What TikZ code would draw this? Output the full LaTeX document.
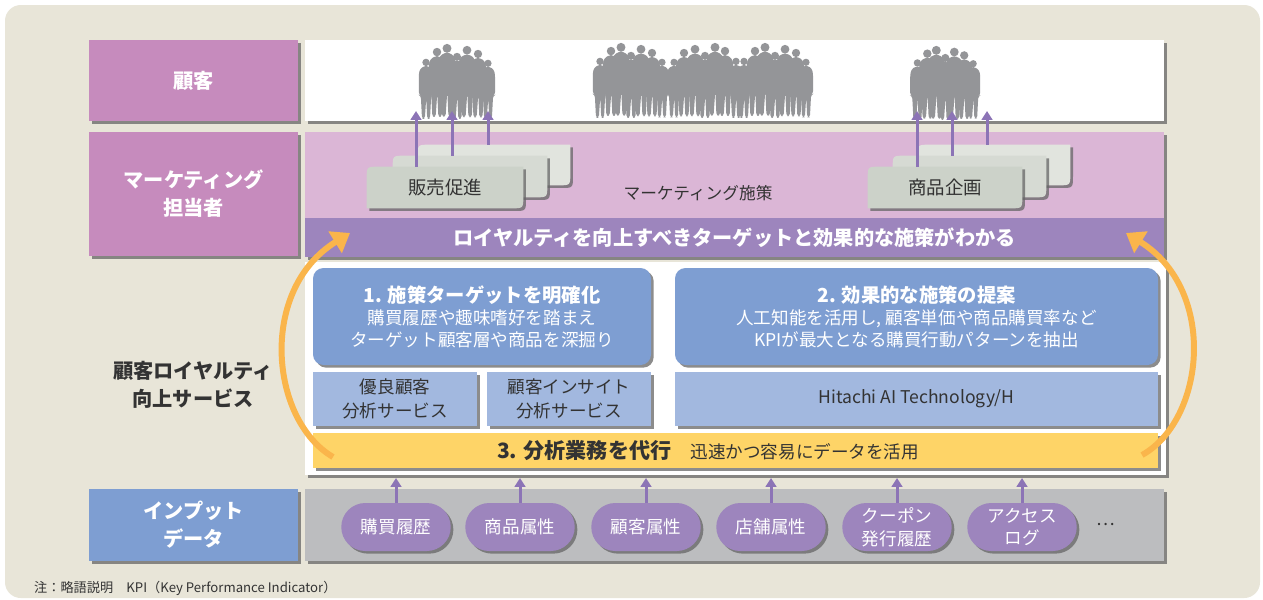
\documentclass[tikz,border=0pt]{standalone}
\usepackage{fontspec}
\setmainfont{Noto Sans CJK JP}
\usetikzlibrary{arrows.meta,fit,shadows,shapes.misc}

\definecolor{bgbeige}{HTML}{E8E5D8}
\definecolor{custpink}{HTML}{C68BBD}
\definecolor{mktpink}{HTML}{DBB6D6}
\definecolor{bandpurple}{HTML}{9D85BD}
\definecolor{arrowpurple}{HTML}{8C74B6}
\definecolor{cardA}{HTML}{CCD2C9}
\definecolor{cardB}{HTML}{D6DAD3}
\definecolor{cardC}{HTML}{E1E4DE}
\definecolor{svcblue}{HTML}{7E9ED2}
\definecolor{svclight}{HTML}{A2B8DF}
\definecolor{baryellow}{HTML}{FED467}
\definecolor{inputgray}{HTML}{BCBDBF}
\definecolor{crowdgray}{HTML}{949598}
\definecolor{flowyellow}{HTML}{FAB54B}
\definecolor{ink}{HTML}{333333}

\newcommand{\rowlabelfont}{\bfseries\fontsize{11.5}{16}\selectfont}
\newcommand{\bandfont}{\bfseries\fontsize{11.5}{14}\selectfont}
\newcommand{\boxfont}{\fontsize{10}{12.5}\selectfont}
\newcommand{\boxtitlefont}{\bfseries\fontsize{11}{13}\selectfont}
\newcommand{\notefont}{\fontsize{7.5}{9}\selectfont}

\newcommand{\cardshape}[2]{%
  \fill[#2, boxshadow] (#1.south west) -- ([yshift=-7pt]#1.north west)
    .. controls (#1.north west) .. ([xshift=7pt]#1.north west)
    -- (#1.north east) -- ([yshift=7pt]#1.south east)
    .. controls (#1.south east) .. ([xshift=-7pt]#1.south east) -- cycle;}

\tikzset{
  >={Triangle[length=5pt,width=6pt]},
  boxshadow/.style={drop shadow={shadow xshift=1.5pt,shadow yshift=-1.5pt,fill=black!60,opacity=.75}},
  panel/.style={fit={#1}, inner sep=0pt, boxshadow},
  rowlabel/.style={panel={#1}, fill=custpink},
  rowtext/.style={text=white, font=\rowlabelfont, align=center},
  svcbox/.style={panel={#1}, fill=svcblue, rounded corners=6pt},
  svctext/.style={text=white, font=\boxfont, align=center},
  toolbox/.style={panel={#1}, fill=svclight},
  tooltext/.style={text=ink, font=\fontsize{10}{13.5}\selectfont, align=center},
  cardbox/.style={fit={#1}, inner sep=0pt},
  cardtext/.style={text=ink, font=\fontsize{10.5}{12}\selectfont},
  pill/.style={rounded rectangle, fill=bandpurple, boxshadow, text=white, minimum width=2.26cm,
    minimum height=0.96cm, inner sep=1pt, font=\fontsize{10}{13}\selectfont, align=center},
  uparrow/.style={->, draw=arrowpurple, line width=1.7pt},
  flowarrow/.style={-{Triangle[length=10pt,width=14pt]}, draw=flowyellow, line width=3.4pt},
  person/.pic={
    \fill (0,5.5) circle (4.6);
    \fill[rounded corners=1.5pt] (-2.2,10) -- (2.2,10) -- (7.5,13.5) -- (9,20) -- (9,46) -- (6.5,47)
      -- (5,76) -- (1.5,76) -- (0.3,50) -- (-1.5,76) -- (-5,76) -- (-6.5,47) -- (-9,46) -- (-9,20)
      -- (-7.5,13.5) -- cycle;
  },
  crowd/.pic={
    \pic[scale=.8] at (6,15) {person};
    \pic[scale=.92] at (17,4) {person};
    \pic[scale=.97] at (27,0) {person};
    \pic[scale=.88] at (37,9) {person};
    \pic[scale=.95] at (47,2) {person};
    \pic[scale=.9] at (58,6) {person};
    \pic[scale=.78] at (68,16) {person};
  }
}

\begin{document}
\begin{tikzpicture}[x=0.02cm,y=-0.02cm]
  \useasboundingbox (0,0) rectangle (1263,599);
  \fill[bgbeige, rounded corners=9pt] (5,5) rectangle (1260,598);

  \node[rowlabel={(89,40) (298,121)}] (custlabel) {};
  \node[rowtext] (custtext) at (custlabel) {顧客};
  \node[rowlabel={(89,132) (298,256)}] (mktlabel) {};
  \node[rowtext] (mkttext) at (mktlabel) {マーケティング\\担当者};
  \node[rowtext, text=ink] (svclabel) at (193,385) {顧客ロイヤルティ\\向上サービス};
  \node[rowlabel={(89,489) (298,561)}, fill=svcblue] (inputlabel) {};
  \node[rowtext] (inputtext) at (inputlabel) {インプット\\データ};

  \node[panel={(305,40) (1164,121)}, fill=white] (custpanel) {};
  \node[panel={(305,132) (1164,257)}, fill=mktpink] (mktpanel) {};
  \node[fit={(305,218) (1164,257)}, inner sep=0pt, fill=bandpurple] (band) {};
  \node[text=white, font=\bandfont] (bandtext) at (band)
    {ロイヤルティを向上すべきターゲットと効果的な施策がわかる};
  \node[panel={(305,262) (1166,475)}, fill=white] (svcpanel) {};
  \node[panel={(305,489) (1164,561)}, fill=inputgray] (inputpanel) {};

  \pic[fill=crowdgray] at (420,43) {crowd};
  \pic[fill=crowdgray] at (594,42) {crowd};
  \pic[fill=crowdgray, xscale=-1] at (742,42) {crowd};
  \pic[fill=crowdgray] at (738,42) {crowd};
  \pic[fill=crowdgray, scale=.9] at (912,45) {crowd};

  \node[cardbox={(418,145) (570,185)}] (promoC) {};
  \node[cardbox={(393,156) (547,197)}] (promoB) {};
  \node[cardbox={(367,167) (523,208)}] (promoA) {};
  \cardshape{promoC}{cardC}
  \cardshape{promoB}{cardB}
  \cardshape{promoA}{cardA}
  \node[cardtext] (promotext) at (promoA) {販売促進};

  \node[cardbox={(918,145) (1070,185)}] (planC) {};
  \node[cardbox={(893,156) (1046,197)}] (planB) {};
  \node[cardbox={(868,167) (1022,208)}] (planA) {};
  \cardshape{planC}{cardC}
  \cardshape{planB}{cardB}
  \cardshape{planA}{cardA}
  \node[cardtext] (plantext) at (planA) {商品企画};

  \node[text=ink, font=\fontsize{9.5}{11}\selectfont] (measures) at (698,193) {マーケティング施策};

  \coordinate (promoTipA) at (416,111);
  \coordinate (promoTipB) at (452,111);
  \coordinate (promoTipC) at (488,111);
  \coordinate (planTipA) at (917,111);
  \coordinate (planTipB) at (952,111);
  \coordinate (planTipC) at (987,111);
  \draw[uparrow] (promoA.north -| promoTipA) -- (promoTipA);
  \draw[uparrow] (promoB.north -| promoTipB) -- (promoTipB);
  \draw[uparrow] (promoC.north -| promoTipC) -- (promoTipC);
  \draw[uparrow] (planA.north -| planTipA) -- (planTipA);
  \draw[uparrow] (planB.north -| planTipB) -- (planTipB);
  \draw[uparrow] (planC.north -| planTipC) -- (planTipC);

  \node[svcbox={(313,268) (651,365)}] (target) {};
  \node[svctext] (targettext) at (target)
    {{\boxtitlefont 1. 施策ターゲットを明確化}\\購買履歴や趣味嗜好を踏まえ\\ターゲット顧客層や商品を深掘り};
  \node[svcbox={(675,268) (1158,365)}] (proposal) {};
  \node[svctext] (proposaltext) at (proposal)
    {{\boxtitlefont 2. 効果的な施策の提案}\\人工知能を活用し, 顧客単価や商品購買率など\\KPIが最大となる購買行動パターンを抽出};
  \node[toolbox={(313,372) (477,426)}] (loyal) {};
  \node[tooltext] (loyaltext) at (loyal) {優良顧客\\分析サービス};
  \node[toolbox={(487,372) (651,426)}] (insight) {};
  \node[tooltext] (insighttext) at (insight) {顧客インサイト\\分析サービス};
  \node[toolbox={(675,372) (1158,426)}] (hitachi) {};
  \node[tooltext] (hitachitext) at (hitachi) {Hitachi AI Technology/H};
  \node[panel={(313,433) (1158,468)}, fill=baryellow] (agency) {};
  \node[text=ink, font=\boxfont] (agencytext) at (708,451)
    {{\bfseries\fontsize{12}{14}\selectfont 3. 分析業務を代行}\hspace{1.1em}迅速かつ容易にデータを活用};

  \node[pill] (p1) at (396,527) {購買履歴};
  \node[pill] (p2) at (520,527) {商品属性};
  \node[pill] (p3) at (646,527) {顧客属性};
  \node[pill] (p4) at (771,527) {店舗属性};
  \node[pill] (p5) at (897,527) {クーポン\\発行履歴};
  \node[pill] (p6) at (1022,527) {アクセス\\ログ};
  \node[text=ink, font=\boxfont] (more) at (1106,524) {…};

  \draw[uparrow, shorten >=1.5pt] (p1.north) -- (p1.north |- svcpanel.south);
  \draw[uparrow, shorten >=1.5pt] (p2.north) -- (p2.north |- svcpanel.south);
  \draw[uparrow, shorten >=1.5pt] (p3.north) -- (p3.north |- svcpanel.south);
  \draw[uparrow, shorten >=1.5pt] (p4.north) -- (p4.north |- svcpanel.south);
  \draw[uparrow, shorten >=1.5pt] (p5.north) -- (p5.north |- svcpanel.south);
  \draw[uparrow, shorten >=1.5pt] (p6.north) -- (p6.north |- svcpanel.south);

  \coordinate (flowLtail) at (333,457);
  \coordinate (flowLhead) at (350,233);
  \coordinate (flowRtail) at (1142,455);
  \coordinate (flowRhead) at (1126,233);
  \draw[flowarrow] (flowLtail) .. controls (270,420) and (258,290) .. (flowLhead);
  \draw[flowarrow] (flowRtail) .. controls (1205,420) and (1218,290) .. (flowRhead);

  \node[anchor=west, text=ink, font=\notefont] (note) at (28,588)
    {注：略語説明　KPI（Key Performance Indicator）};
\end{tikzpicture}
\end{document}
